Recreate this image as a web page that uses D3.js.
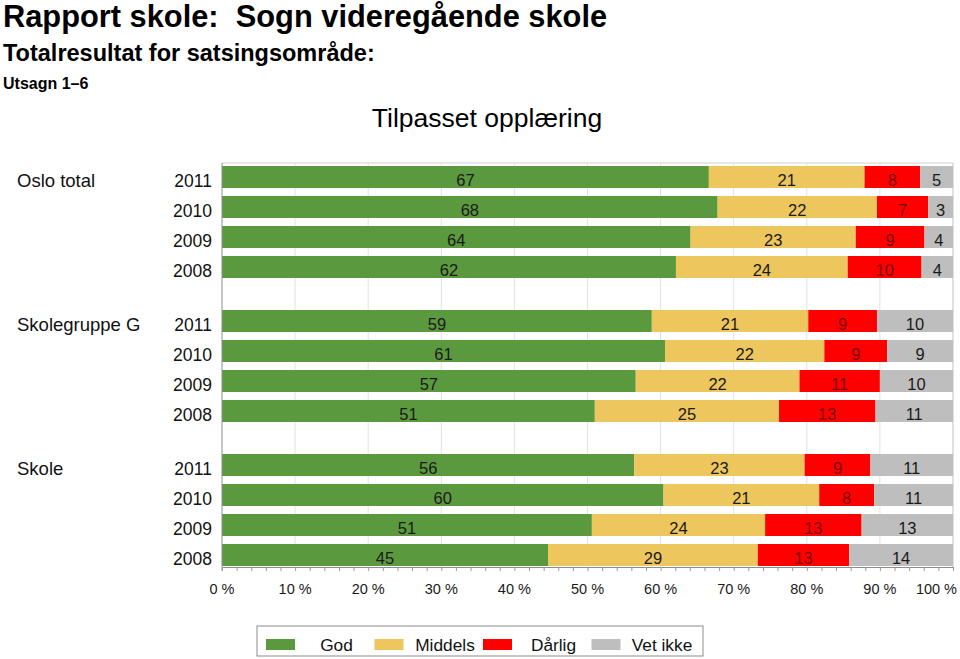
<!DOCTYPE html>
<html><head><meta charset="utf-8">
<script src="https://cdn.jsdelivr.net/npm/d3@7"></script>
<style>
body{margin:0;background:#fff;}
svg{display:block;font-family:"Liberation Sans",Arial,Helvetica,sans-serif;}
</style></head>
<body><svg id="c" width="960" height="659"></svg>
<script>
const groups = ["Oslo total", "Skolegruppe G", "Skole"];
const years = ["2011", "2010", "2009", "2008"];
const categories = ["God", "Middels", "Dårlig", "Vet ikke"];
const god     = [66.6, 67.8, 64.1, 62.1, 58.8, 60.6, 56.6, 51.0, 56.4, 60.4, 50.6, 44.6];
const middels = [21.3, 21.8, 22.6, 23.5, 21.4, 21.8, 22.4, 25.2, 23.3, 21.3, 23.7, 28.7];
const darlig  = [7.6, 7.0, 9.4, 10.1, 9.4, 8.6, 11.0, 13.2, 9.0, 7.5, 13.2, 12.5];
const vetIkke = [4.5, 3.4, 3.9, 4.3, 10.4, 9.0, 10.0, 10.6, 11.3, 10.8, 12.5, 14.2];
const xTicks = [0, 10, 20, 30, 40, 50, 60, 70, 80, 90, 100];
const colors = ["#5b993e", "#edc65d", "#ff0000", "#bebebe"];
const labelColors = ["#1a1a1a", "#1a1a1a", "#7a0000", "#1a1a1a"];

(function () {
const svg = d3.select("#c");
const pL = 222, pR = 953, pT = 163, pB = 567;

// titles
svg.append("text").attr("x", 3).attr("y", 27).attr("font-size", 30.8).attr("font-weight", "bold")
  .style("white-space", "pre").text("Rapport skole:  Sogn videregående skole");
svg.append("text").attr("x", 3).attr("y", 61).attr("font-size", 23.5).attr("font-weight", "bold")
  .text("Totalresultat for satsingsområde:");
svg.append("text").attr("x", 3).attr("y", 89).attr("font-size", 16).attr("font-weight", "bold")
  .text("Utsagn 1–6");
svg.append("text").attr("x", 487).attr("y", 127).attr("font-size", 26.5).attr("text-anchor", "middle")
  .text("Tilpasset opplæring");

const rows = [];
groups.forEach((g, gi) => years.forEach((y, yi) => {
  const k = gi * 4 + yi;
  rows.push({group: g, gi, year: y, yi, k, God: god[k], Middels: middels[k], "Dårlig": darlig[k], "Vet ikke": vetIkke[k]});
}));

const x = d3.scaleLinear().domain([0, 100]).range([pL, pR]);
const slot = d3.scaleLinear().domain([0, 12.6]).range([177, 555]);
const yc = r => slot(r.gi * 4.8 + r.yi);
const barH = 22;

// gridlines
svg.append("g").selectAll("line").data(xTicks.slice(1)).join("line")
  .attr("x1", d => x(d)).attr("x2", d => x(d)).attr("y1", pT).attr("y2", pB)
  .attr("stroke", "#e2e2e2").attr("stroke-width", 1);
// frame
svg.append("line").attr("x1", pL).attr("x2", pR).attr("y1", pT).attr("y2", pT).attr("stroke", "#cfcfcf");
svg.append("line").attr("x1", pR).attr("x2", pR).attr("y1", pT).attr("y2", pB).attr("stroke", "#cfcfcf");

const stack = d3.stack().keys(categories)(rows);
const gBars = svg.append("g");
stack.forEach((layer, li) => {
  const key = categories[li];
  gBars.append("g").selectAll("rect").data(layer).join("rect")
    .attr("x", d => x(d[0])).attr("width", d => x(d[1]) - x(d[0]))
    .attr("y", d => yc(d.data) - barH / 2).attr("height", barH)
    .attr("fill", colors[li]);
  gBars.append("g").selectAll("text").data(layer).join("text")
    .attr("x", d => (x(d[0]) + x(d[1])) / 2).attr("y", d => yc(d.data) + 8.5)
    .attr("text-anchor", "middle").attr("font-size", 16.5).attr("fill", labelColors[li])
    .text(d => Math.round(d.data[key]));
});

// left axis line
svg.append("line").attr("x1", pL).attr("x2", pL).attr("y1", pT).attr("y2", pB + 4).attr("stroke", "#8c8c8c");
// bottom axis
const xAxis = d3.axisBottom(x).tickValues(d3.range(0, 101, 2)).tickSize(4).tickFormat("");
const ax = svg.append("g").attr("transform", `translate(0,${pB})`).call(xAxis);
ax.select(".domain").attr("stroke", "#8c8c8c");
ax.selectAll(".tick line").attr("stroke", "#9a9a9a");
svg.append("g").selectAll("text").data(xTicks).join("text")
  .attr("x", d => d === 100 ? 957 : x(d)).attr("y", 594)
  .attr("text-anchor", d => d === 100 ? "end" : "middle")
  .attr("font-size", 14.5).attr("fill", "#1a1a1a").text(d => d + " %");

// row labels
svg.append("g").selectAll("text").data(rows).join("text")
  .attr("x", 212).attr("y", d => yc(d) + 10).attr("text-anchor", "end")
  .attr("font-size", 17.5).attr("fill", "#111").text(d => d.year);
svg.append("g").selectAll("text").data(rows.filter(r => r.yi === 0)).join("text")
  .attr("x", 17).attr("y", d => yc(d) + 10)
  .attr("font-size", 18.5).attr("fill", "#111").text(d => d.group);

// legend
const lg = svg.append("g");
lg.append("rect").attr("x", 257).attr("y", 626).attr("width", 446).attr("height", 30)
  .attr("fill", "#fff").attr("stroke", "#8c8c8c");
const lx = d3.scaleBand().domain(categories).range([266, 700]);
categories.forEach((c, i) => {
  lg.append("rect").attr("x", lx(c)).attr("y", 639).attr("width", 29).attr("height", 11).attr("fill", colors[i]);
  lg.append("text").attr("x", lx(c) + 70.5).attr("y", 650.5).attr("text-anchor", "middle")
    .attr("font-size", 17.3).attr("fill", "#111").text(c);
});
})();
</script></body></html>
